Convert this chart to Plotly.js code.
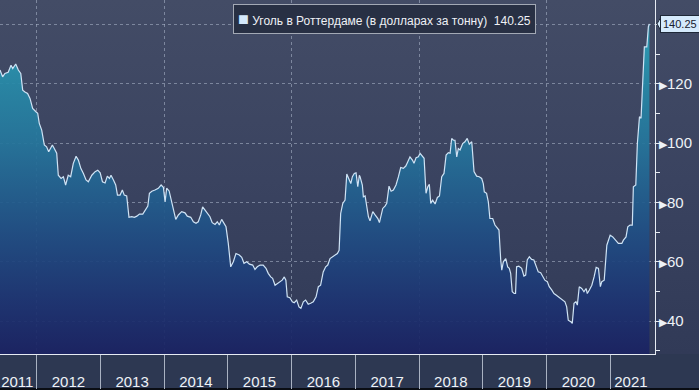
<!DOCTYPE html>
<html><head><meta charset="utf-8">
<script src="https://cdn.plot.ly/plotly-3.0.1.min.js"></script>
<style>
html,body{margin:0;padding:0;background:#0a0d14;}
#chart{width:699px;height:390px;background:linear-gradient(to bottom,#434c66 0px,#3a4360 180px,#313a57 354px,#2d3852 354px,#2d3852 388px,#0a0d14 388px);}
</style></head><body><div id="chart"></div>
<script>
// Decimal-year positions of the readings
const yearFrac = [
2011.426,2011.468,2011.504,2011.556,2011.598,2011.625,2011.672,2011.713,2011.751,2011.782,2011.818,2011.860,2011.896,2011.939,2011.991,
2012.017,2012.042,2012.080,2012.121,2012.158,2012.190,2012.221,2012.246,2012.278,2012.315,2012.340,2012.383,2012.419,2012.456,2012.497,2012.535,2012.576,2012.618,2012.654,2012.692,2012.733,2012.775,2012.811,2012.864,2012.916,2012.958,2012.995,
2013.031,2013.073,2013.109,2013.141,2013.167,2013.203,2013.240,2013.266,2013.308,2013.344,2013.375,2013.413,2013.449,2013.492,2013.533,2013.570,2013.611,2013.664,2013.700,2013.743,2013.768,2013.806,2013.857,2013.909,2013.952,2013.988,
2014.014,2014.041,2014.077,2014.108,2014.145,2014.182,2014.223,2014.276,2014.328,2014.364,2014.417,2014.458,2014.500,2014.536,2014.574,2014.605,2014.642,2014.684,2014.720,2014.756,2014.799,2014.835,2014.866,2014.904,2014.940,2014.971,
2015.007,2015.045,2015.086,2015.128,2015.180,2015.217,2015.253,2015.296,2015.337,2015.390,2015.426,2015.462,2015.505,2015.556,2015.599,2015.635,2015.672,2015.704,2015.740,2015.776,2015.818,2015.854,2015.886,2015.912,2015.933,2015.975,
2016.011,2016.042,2016.080,2016.116,2016.147,2016.184,2016.221,2016.262,2016.299,2016.340,2016.383,2016.419,2016.456,2016.497,2016.535,2016.566,2016.602,2016.645,2016.681,2016.717,2016.744,2016.770,2016.802,2016.838,2016.864,2016.900,2016.927,2016.952,2016.983,
2017.010,2017.037,2017.062,2017.073,2017.109,2017.125,2017.152,2017.178,2017.203,2017.230,2017.272,2017.308,2017.351,2017.376,2017.402,2017.429,2017.465,2017.492,2017.528,2017.559,2017.595,2017.638,2017.674,2017.711,2017.752,2017.790,2017.821,2017.857,2017.894,2017.920,2017.952,2017.988,
2018.014,2018.041,2018.077,2018.108,2018.135,2018.160,2018.182,2018.213,2018.250,2018.286,2018.318,2018.355,2018.391,2018.423,2018.459,2018.485,2018.512,2018.537,2018.564,2018.590,2018.615,2018.642,2018.684,2018.720,2018.756,2018.788,2018.825,2018.862,2018.904,2018.945,2018.983,
2019.008,2019.023,2019.060,2019.086,2019.112,2019.155,2019.191,2019.228,2019.254,2019.281,2019.296,2019.321,2019.359,2019.390,2019.415,2019.437,2019.462,2019.493,2019.515,2019.531,2019.567,2019.610,2019.646,2019.672,2019.697,2019.729,2019.766,2019.802,2019.834,2019.870,2019.908,2019.939,2019.975,
2020.011,2020.043,2020.080,2020.116,2020.148,2020.184,2020.221,2020.253,2020.289,2020.315,2020.341,2020.378,2020.403,2020.430,2020.461,2020.482,2020.513,2020.551,2020.587,2020.618,2020.639,2020.670,2020.708,2020.744,2020.776,2020.812,2020.844,2020.866,2020.902,2020.944,2020.996,
2021.038,2021.074,2021.126,2021.179,2021.204,2021.246,2021.273,2021.309,2021.344,2021.360,2021.398,2021.423,2021.455,2021.481,2021.508,2021.533,2021.570,2021.596,2021.611
];
// Coal price in Rotterdam, USD per tonne
const price = [
124.7,122.4,123.5,123.9,126.3,125.2,126.7,124.7,123.5,117.9,117.3,116.8,115.1,111.7,110.6,
110.1,106.7,104.4,99.4,98.8,97.1,98.2,99.4,98.2,96.6,89.2,88.1,88.7,85.9,89.2,88.7,93.2,95.6,94.3,91.5,89.8,87.6,87.0,89.2,90.4,90.9,90.0,
87.0,86.6,88.9,88.1,89.2,87.6,85.9,82.5,82.5,84.2,82.5,82.2,75.0,75.2,75.0,75.4,76.1,76.1,77.4,78.8,83.1,83.8,84.2,84.8,85.9,85.1,
80.2,84.8,83.9,80.8,78.0,74.3,75.8,76.9,76.5,75.4,75.0,73.5,73.0,73.5,75.8,78.5,77.4,76.3,75.2,73.2,72.6,73.5,72.4,74.3,73.0,71.8,
66.2,58.3,60.0,62.8,62.3,61.5,59.5,60.0,59.2,58.9,57.4,58.3,58.9,58.9,57.8,56.1,54.9,54.4,52.1,52.7,53.3,53.8,54.9,53.8,48.2,47.9,
46.5,46.2,47.1,44.8,44.3,46.5,47.1,45.7,46.0,46.5,48.2,51.6,52.1,56.6,58.3,58.9,61.1,61.7,62.3,62.8,63.9,76.3,79.7,80.8,89.6,88.1,86.4,88.7,89.8,
90.0,85.3,89.2,88.7,85.9,81.9,82.2,78.0,75.2,73.8,76.9,75.8,74.6,73.2,75.2,78.0,78.8,79.7,85.5,83.8,84.2,85.9,88.7,91.8,91.5,92.3,93.7,95.4,94.3,93.2,95.1,95.4,
96.6,96.0,94.9,83.1,85.3,86.1,79.7,80.8,79.5,81.7,82.2,88.7,89.8,96.0,96.8,96.6,101.6,101.0,101.0,95.4,98.2,97.7,99.9,100.5,101.6,99.7,100.5,90.4,88.9,88.7,88.1,
86.4,83.6,83.1,80.2,74.6,74.6,72.4,71.3,70.7,60.6,57.2,60.0,61.1,58.3,57.8,56.1,49.9,49.3,49.3,58.3,58.5,57.8,55.2,55.5,60.6,61.7,60.8,60.6,58.3,56.6,56.3,54.9,53.8,
53.3,51.6,50.5,49.3,48.8,48.2,47.7,47.1,46.5,44.8,40.3,39.8,39.2,46.0,46.5,45.4,51.6,51.0,49.9,51.0,49.3,50.5,52.1,54.9,58.1,57.8,51.6,53.3,53.8,65.6,69.0,
68.4,67.3,66.2,66.2,67.3,68.4,71.8,72.4,72.4,85.3,85.9,99.9,108.9,108.4,124.3,132.5,132.5,139.3,140.25
];
const tickYears = ['2011','2012','2013','2014','2015','2016','2017','2018','2019','2020','2021'];
const tickDates = ['2011-09-12','2012-07-01','2013-07-01','2014-07-01','2015-07-01','2016-07-01','2017-07-01','2018-07-01','2019-07-01','2020-07-01','2021-04-28'];
const yTickVals = [40,60,80,100,120,140];
const yTickLabels = ['40','60','80','100','120',''];
const seriesName = 'Уголь в Роттердаме (в долларах за тонну)';
const xRange = ['2011-06-05','2021-09-13'];
const yRange = [28.9,148.3];

function fracToDate(t){
  const y = Math.floor(t);
  const s = Date.UTC(y,0,1), e = Date.UTC(y+1,0,1);
  return new Date(s + (t - y) * (e - s)).toISOString().slice(0,10);
}
const dates = yearFrac.map(fracToDate);
const lastVal = price[price.length-1];
const lastTxt = lastVal.toFixed(2);

const FONT = 'Liberation Sans, Arial, sans-serif';
const GRID = 'rgba(175,185,205,0.55)';
const tri = '<span style="font-size:11px">▶</span>';

const traces = [
  {type:'scatter', mode:'lines', x:dates, y:price, name:seriesName,
   line:{color:'#cfe3f5', width:1.2}, fill:'tozeroy',
   fillgradient:{type:'vertical', start:yRange[0], stop:yRange[1],
     colorscale:[[0,'rgba(26,34,98,0.93)'],[0.15,'rgba(29,52,114,0.93)'],[0.34,'rgba(32,78,132,0.93)'],[0.6,'rgba(37,118,156,0.93)'],[0.76,'rgba(39,137,167,0.93)'],[0.93,'rgba(44,163,187,0.93)'],[1,'rgba(48,172,194,0.93)']]},
   hoverinfo:'skip', showlegend:false},
  {type:'scatter', mode:'lines', x:[dates[0]], y:[null], xaxis:'x2', yaxis:'y', hoverinfo:'skip', showlegend:false}
];

const layout = {
  width:699, height:390,
  margin:{l:0, r:44, t:0, b:36, pad:0},
  paper_bgcolor:'rgba(0,0,0,0)', plot_bgcolor:'rgba(0,0,0,0)',
  showlegend:false, hovermode:false,
  xaxis:{type:'date', range:xRange, tickmode:'array', tickvals:tickDates, ticktext:tickYears,
    ticks:'', showgrid:false, zeroline:false, showline:true, linecolor:'#e6ebf2', linewidth:1,
    tickfont:{family:FONT, size:15, color:'#eef2f7'}, ticklabelstandoff:14, ticklabeloverflow:'allow',
    minor:{tick0:'2012-01-01', dtick:'M12', ticks:'outside', ticklen:34, tickcolor:'#a9b2c2', tickwidth:1, showgrid:false}},
  xaxis2:{type:'date', overlaying:'x', range:xRange, tick0:'2012-01-01', dtick:'M24',
    showgrid:true, gridcolor:GRID, griddash:'3px,3px', gridwidth:1,
    showticklabels:false, ticks:'', showline:false, zeroline:false},
  yaxis:{side:'right', range:yRange, tickmode:'array', tickvals:yTickVals,
    ticktext:yTickLabels.map(t => t ? tri + t : ''),
    ticks:'', showgrid:true, gridcolor:GRID, griddash:'3px,3px', gridwidth:1,
    showline:true, linecolor:'#e6ebf2', linewidth:1, zeroline:false,
    tickfont:{family:FONT, size:15, color:'#eef2f7'}, ticklabelstandoff:0,
    minor:{tick0:30, dtick:10, ticks:'outside', ticklen:4, tickcolor:'#e6ebf2', tickwidth:1, showgrid:false}},
  annotations:[
    {xref:'paper', yref:'paper', x:233/655, y:1-4/354, xanchor:'left', yanchor:'top', showarrow:false,
     text:'<span style="color:#d4e8fb;font-size:18px">■</span> ' + seriesName + '\u00a0\u00a0' + lastTxt,
     bgcolor:'#283044', bordercolor:'#a3a9b5', borderwidth:1, borderpad:4,
     font:{family:FONT, size:12, color:'#eef1f6'}},
    {xref:'paper', yref:'y', x:1, y:lastVal, xanchor:'left', yanchor:'middle', xshift:5, showarrow:false,
     text:lastTxt, bgcolor:'#d5eafc', bordercolor:'#1e2838', borderwidth:1, borderpad:2,
     font:{family:FONT, size:11, color:'#18202e'}}
  ],
  shapes:[
    {type:'path', xref:'paper', yref:'y', xsizemode:'pixel', ysizemode:'pixel', xanchor:1, yanchor:lastVal,
     path:'M2,0 L6,-7 L6,7 Z', fillcolor:'#d5eafc', line:{color:'#1e2838', width:1}, layer:'above'}
  ]
};
Plotly.newPlot('chart', traces, layout, {displayModeBar:false, staticPlot:true});
</script></body></html>
